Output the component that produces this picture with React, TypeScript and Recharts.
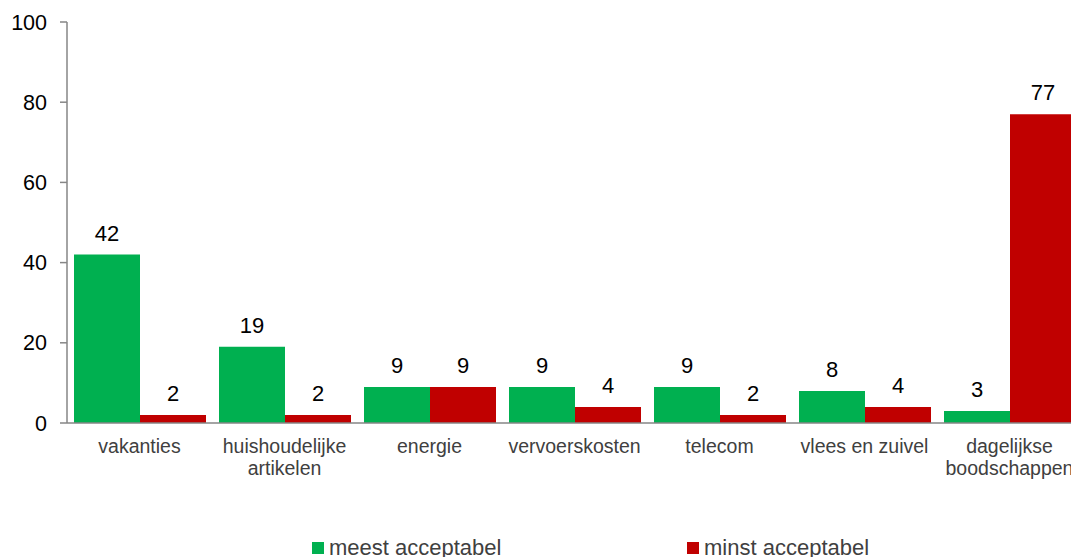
import { BarChart, Bar, XAxis, YAxis, Legend, LabelList } from "recharts"

const categories = [
  "vakanties",
  "huishoudelijke\nartikelen",
  "energie",
  "vervoerskosten",
  "telecom",
  "vlees en zuivel",
  "dagelijkse\nboodschappen",
]
const meestAcceptabel = [42, 19, 9, 9, 9, 8, 3]
const minstAcceptabel = [2, 2, 9, 4, 2, 4, 77]
const yTicks = [0, 20, 40, 60, 80, 100]

const GREEN = "#00B050"
const RED = "#C00000"
const FONT = "'Liberation Sans', Arial, sans-serif"

const data = categories.map((name, i) => ({
  name,
  meest: meestAcceptabel[i],
  minst: minstAcceptabel[i],
}))

function CategoryTick(props: any) {
  const { x, y, payload } = props
  const lines = String(payload.value).split("\n")
  return (
    <g>
      {lines.map((line: string, i: number) => (
        <text
          key={i}
          x={x}
          y={y + 22 + i * 22}
          textAnchor="middle"
          fill="#404040"
          fontSize={19.5}
          fontFamily={FONT}
        >
          {line}
        </text>
      ))}
    </g>
  )
}

function LegendContent() {
  const item = (left: number, color: string, label: string) => (
    <div
      style={{
        position: "absolute",
        left,
        top: 0,
        display: "flex",
        alignItems: "center",
        fontFamily: FONT,
        fontSize: 22,
        lineHeight: "22px",
        color: "#404040",
        whiteSpace: "nowrap",
      }}
    >
      <span style={{ display: "inline-block", width: 12, height: 12, background: color, marginRight: 5 }} />
      {label}
    </div>
  )
  return (
    <div style={{ position: "relative", height: 22 }}>
      {item(312, GREEN, "meest acceptabel")}
      {item(687, RED, "minst acceptabel")}
    </div>
  )
}

export default function App() {
  return (
    <div style={{ position: "absolute", left: 0, top: 0, width: 1071, height: 557, overflow: "hidden", background: "#fff" }}>
      <BarChart
        width={1100}
        height={557}
        data={data}
        margin={{ top: 22, right: 18, left: 0, bottom: 74 }}
        barCategoryGap={7}
        barGap={0}
      >
        <XAxis
          dataKey="name"
          axisLine={{ stroke: "#868686", strokeWidth: 1.5 }}
          tickLine={false}
          interval={0}
          height={60}
          tick={<CategoryTick />}
        />
        <YAxis
          domain={[0, 100]}
          ticks={yTicks}
          width={67}
          axisLine={{ stroke: "#868686", strokeWidth: 1.5 }}
          tickLine={{ stroke: "#868686", strokeWidth: 1.5 }}
          tickSize={7}
          tickMargin={13}
          tick={{ fill: "#000", fontSize: 21.5, fontFamily: FONT }}
        />
        <Legend
          verticalAlign="middle"
          wrapperStyle={{ top: 537, left: 0, width: 1071 }}
          content={<LegendContent />}
        />
        <Bar dataKey="meest" name="meest acceptabel" fill={GREEN} isAnimationActive={false}>
          <LabelList dataKey="meest" position="top" offset={14} fill="#000" fontSize={22} fontFamily={FONT} />
        </Bar>
        <Bar dataKey="minst" name="minst acceptabel" fill={RED} isAnimationActive={false}>
          <LabelList dataKey="minst" position="top" offset={14} fill="#000" fontSize={22} fontFamily={FONT} />
        </Bar>
      </BarChart>
    </div>
  )
}
